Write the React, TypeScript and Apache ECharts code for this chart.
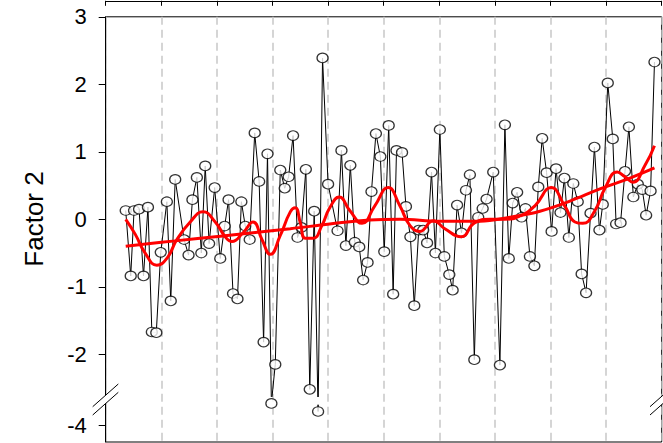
import React, { useEffect, useRef } from "react";
import * as echarts from "echarts";

// x positions of the observations (axis units 0..100)
const obsX = [
  3.6, 4.5, 5.1, 6.0, 6.8, 7.6, 8.3, 9.1, 9.9, 11.0, 11.7, 12.5, 14.1, 14.9, 15.6, 16.4, 17.2, 17.9, 18.6, 19.6,
  20.6, 21.4, 22.1, 22.9, 23.7, 24.4, 25.1, 25.9, 26.8, 27.6, 28.4, 29.1, 29.8, 30.5, 31.4, 32.2, 32.9, 33.7, 34.5, 35.2,
  36.0, 36.7, 37.5, 38.2, 39.0, 40.0, 41.7, 42.4, 43.2, 44.0, 44.8, 45.6, 46.3, 47.1, 47.8, 48.6, 49.4, 50.1, 50.9, 51.7,
  52.3, 53.3, 54.0, 54.8, 55.5, 56.3, 57.1, 57.8, 58.6, 59.3, 60.1, 60.9, 61.8, 62.4, 63.2, 64.0, 64.8, 65.5, 66.3, 67.0,
  67.8, 68.5, 69.7, 70.9, 71.8, 72.5, 73.2, 74.0, 74.8, 75.5, 76.3, 77.1, 77.8, 78.5, 79.3, 80.2, 81.0, 81.8, 82.5, 83.3,
  84.1, 84.9, 85.6, 86.4, 87.2, 87.9, 88.8, 89.4, 90.3, 91.2, 91.8, 92.6, 93.4, 94.1, 94.9, 95.7, 96.5, 97.2, 98.0, 98.7,
];

// Factor 2 scores
const factor2 = [
  0.13, -0.84, 0.13, 0.15, -0.84, 0.18, -1.67, -1.68, -0.49, 0.26, -1.21, 0.59, -0.3, -0.53, 0.29, 0.62, -0.5, 0.79, -0.36, 0.47,
  -0.58, -0.1, 0.29, -1.1, -1.18, 0.26, -0.1, -0.3, 1.28, 0.56, -1.82, 0.97, -3.67, -2.15, 0.73, 0.46, 0.63, 1.24, -0.27, -0.12,
  0.74, -2.52, 0.12, -3.79, 2.39, 0.52, -0.17, 1.02, -0.39, 0.8, -0.34, -0.41, -0.9, -0.64, 0.41, 1.27, 0.93, -0.48, 1.39, -1.11,
  1.02, 0.99, 0.19, -0.26, -1.28, -0.16, -0.16, -0.35, 0.7, -0.5, 1.33, -0.55, -0.82, -1.05, 0.21, -0.2, 0.43, 0.66, -2.08, 0.03,
  0.16, 0.3, 0.7, -2.16, 1.4, -0.58, 0.24, 0.4, 0.03, 0.16, -0.55, -0.69, 0.48, 1.2, 0.69, -0.18, 0.75, 0.1, 0.61, -0.27,
  0.53, 0.26, -0.81, -1.09, 0.09, 1.07, -0.16, 0.22, 2.02, 1.19, -0.07, -0.05, 0.71, 1.37, 0.33, 0.52, 0.44, 0.06, 0.42, 2.33,
];

// long-term trend (red, nearly straight)
const trendX = [3.6, 12.5, 20.6, 33.2, 40.3, 47.5, 52.9, 60.1, 67.3, 72.7, 78.1, 83.5, 88.9, 94.3, 98.7];
const trendY = [-0.4, -0.32, -0.25, -0.14, -0.07, -0.01, 0.0, -0.03, -0.03, 0.03, 0.12, 0.27, 0.45, 0.61, 0.76];

// short-term smoother (red, wiggly)
const smoothX = [
  3.6, 5.3, 7.1, 9.2, 11.0, 12.8, 15.2, 17.5, 19.7, 21.5, 22.7, 24.7, 26.5, 28.1, 29.6, 31.4, 33.2, 34.1, 35.0, 35.9,
  37.3, 38.9, 40.3, 42.0, 43.9, 46.1, 48.4, 50.8, 52.9, 54.7, 56.5, 58.9, 61.0, 63.9, 66.4, 69.1, 71.8, 74.5, 77.2, 80.1,
  82.6, 84.4, 85.8, 88.0, 89.8, 92.0, 93.4, 94.8, 97.0, 98.7,
];
const smoothY = [
  0.0, -0.22, -0.5, -0.68, -0.58, -0.3, -0.04, 0.11, -0.04, -0.26, -0.33, -0.2, -0.04, -0.3, -0.52, -0.24, 0.11, 0.17, -0.05, -0.28,
  -0.28, -0.09, 0.17, 0.33, 0.13, -0.06, 0.2, 0.47, 0.2, -0.09, -0.18, -0.02, -0.14, -0.26, -0.05, 0.0, 0.0, 0.05, 0.2, 0.47,
  0.19, -0.04, -0.06, 0.13, 0.46, 0.7, 0.63, 0.55, 0.8, 1.09,
];

const yTicks = [3, 2, 1, 0, -1, -2, -4];
const yTitle = "Factor 2";

// broken y axis: values below the break are shifted up
const BREAK_LIMIT = -3;
const BREAK_SHIFT = 0.942;
const GAP_TOP = -2.633;
const GAP_BOTTOM = -2.748;
const toDisplay = (v: number) => (v < BREAK_LIMIT ? v + BREAK_SHIFT : v);
const fromDisplay = (d: number) => (d < -2.9 ? d - BREAK_SHIFT : d);

function buildConnector() {
  const out: any[] = [];
  for (let i = 0; i < obsX.length; i++) {
    const cur = [obsX[i], toDisplay(factor2[i])];
    if (i > 0) {
      const lowPrev = factor2[i - 1] < BREAK_LIMIT;
      const lowCur = factor2[i] < BREAK_LIMIT;
      if (lowPrev !== lowCur) {
        const a = [obsX[i - 1], toDisplay(factor2[i - 1])];
        const b = cur;
        const xAt = (d: number) => a[0] + ((d - a[1]) / (b[1] - a[1])) * (b[0] - a[0]);
        if (!lowPrev) {
          out.push([xAt(GAP_TOP), GAP_TOP]);
          out.push([xAt(GAP_TOP), "-"]);
          if (b[1] < GAP_BOTTOM) out.push([xAt(GAP_BOTTOM), GAP_BOTTOM]);
        } else {
          if (a[1] < GAP_BOTTOM) out.push([xAt(GAP_BOTTOM), GAP_BOTTOM]);
          out.push([xAt(GAP_BOTTOM), "-"]);
          out.push([xAt(GAP_TOP), GAP_TOP]);
        }
      }
    }
    out.push(cur);
  }
  return out;
}

const FONT = "'Liberation Sans', Arial, sans-serif";

export default function App() {
  const ref = useRef<HTMLDivElement>(null);
  useEffect(() => {
    if (!ref.current) return;
    const chart = echarts.init(ref.current, undefined, { renderer: "svg" });
    const gridLeft = 105.7;
    const gridTop = 16.8;
    const gridRight = 663 - 661.7;
    const gridBottom = 1;
    const slope = -0.887;
    const breakL1 = [[92.7, 406.7], [118.3, 406.7 + slope * 25.6]];
    const breakL2 = [[92.7, 415], [118.3, 415 + slope * 25.6]];
    const breakR1 = [[650, 406.7], [675, 406.7 + slope * 25]];
    const breakR2 = [[650, 415], [675, 415 + slope * 25]];
    chart.setOption({
      animation: false,
      backgroundColor: "#ffffff",
      textStyle: { fontFamily: FONT },
      grid: {
        left: gridLeft,
        top: gridTop,
        right: gridRight,
        bottom: gridBottom,
        show: true,
        borderColor: "#000",
        borderWidth: 1,
        backgroundColor: "transparent",
      },
      xAxis: [
        {
          type: "value",
          min: 0,
          max: 100,
          interval: 10,
          axisLine: { show: false },
          axisTick: { show: false },
          axisLabel: { show: false },
          splitLine: {
            show: true,
            lineStyle: { color: "#c8c8c8", width: 1.5, type: [8, 5] },
          },
        },
        {
          type: "value",
          position: "top",
          offset: 16,
          min: 0,
          max: 100,
          interval: 10,
          axisLine: { show: true, lineStyle: { color: "#000", width: 1 } },
          axisTick: { show: true, inside: true, length: 5, lineStyle: { color: "#000" } },
          axisLabel: { show: false },
          splitLine: { show: false },
        },
      ],
      yAxis: {
        type: "value",
        min: -3.3,
        max: 3,
        axisLine: { show: true, lineStyle: { color: "#000", width: 1 } },
        axisTick: {
          show: true,
          length: 7,
          lineStyle: { color: "#000" },
          customValues: yTicks.map(toDisplay),
        },
        axisLabel: {
          show: true,
          margin: 19,
          fontSize: 22,
          color: "#000",
          fontFamily: FONT,
          customValues: yTicks.map(toDisplay),
          formatter: (d: number) => String(Math.round(fromDisplay(d))),
        },
        splitLine: { show: false },
      },
      series: [
        {
          type: "line",
          data: buildConnector(),
          showSymbol: false,
          symbol: "none",
          lineStyle: { color: "#000", width: 1 },
          connectNulls: false,
          z: 2,
        },
        {
          type: "scatter",
          data: obsX.map((x, i) => [x, toDisplay(factor2[i])]),
          symbol: "circle",
          symbolSize: [11, 9.5],
          itemStyle: { color: "#fff", borderColor: "#000", borderWidth: 1.2 },
          z: 3,
        },
        {
          type: "line",
          data: trendX.map((x, i) => [x, trendY[i]]),
          smooth: 0.4,
          showSymbol: false,
          symbol: "none",
          lineStyle: { color: "#ff0000", width: 3 },
          z: 4,
        },
        {
          type: "line",
          data: smoothX.map((x, i) => [x, smoothY[i]]),
          smooth: 0.5,
          showSymbol: false,
          symbol: "none",
          lineStyle: { color: "#ff0000", width: 3 },
          z: 4,
        },
      ],
      graphic: [
        {
          type: "text",
          x: 33.5,
          y: 219,
          rotation: Math.PI / 2,
          style: { text: yTitle, fontSize: 26, fontFamily: FONT, fill: "#000", align: "center", verticalAlign: "middle" },
        },
        { type: "polygon", shape: { points: [breakL1[0], breakL1[1], breakL2[1], breakL2[0]] }, style: { fill: "#fff", stroke: null }, z: 100 },
        { type: "line", shape: { x1: breakL1[0][0], y1: breakL1[0][1], x2: breakL1[1][0], y2: breakL1[1][1] }, style: { stroke: "#000", lineWidth: 1 }, z: 101 },
        { type: "line", shape: { x1: breakL2[0][0], y1: breakL2[0][1], x2: breakL2[1][0], y2: breakL2[1][1] }, style: { stroke: "#000", lineWidth: 1 }, z: 101 },
        { type: "polygon", shape: { points: [breakR1[0], breakR1[1], breakR2[1], breakR2[0]] }, style: { fill: "#fff", stroke: null }, z: 100 },
        { type: "line", shape: { x1: breakR1[0][0], y1: breakR1[0][1], x2: breakR1[1][0], y2: breakR1[1][1] }, style: { stroke: "#000", lineWidth: 1 }, z: 101 },
        { type: "line", shape: { x1: breakR2[0][0], y1: breakR2[0][1], x2: breakR2[1][0], y2: breakR2[1][1] }, style: { stroke: "#000", lineWidth: 1 }, z: 101 },
      ],
    });
    return () => chart.dispose();
  }, []);
  return (
    <div
      ref={ref}
      style={{ position: "fixed", left: 0, top: 0, width: 663, height: 443, background: "#fff" }}
    />
  );
}
